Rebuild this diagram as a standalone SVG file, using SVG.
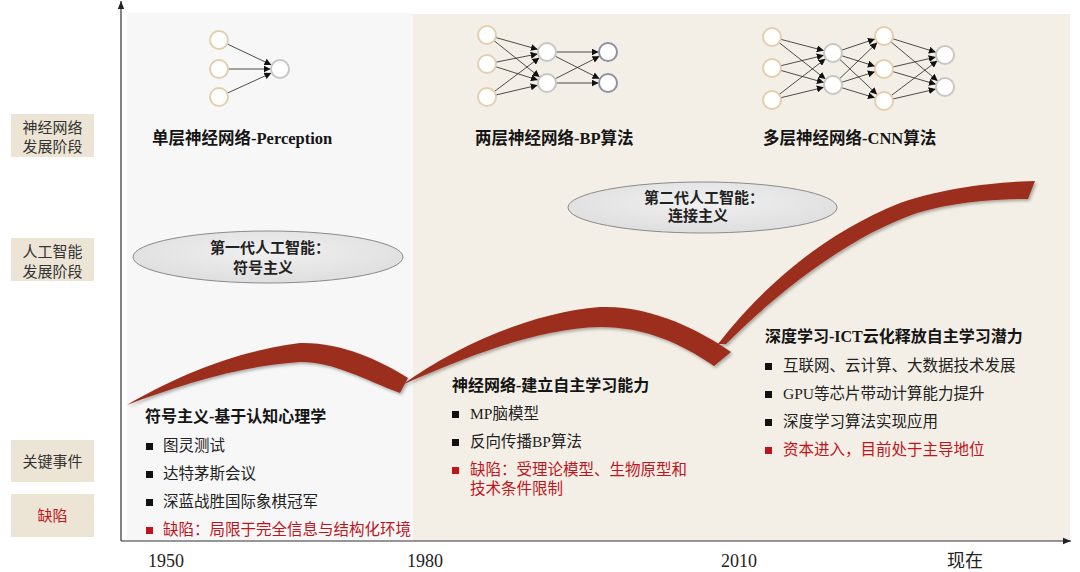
<svg xmlns="http://www.w3.org/2000/svg" width="1080" height="572" viewBox="0 0 1080 572">
<style>
text { font-family: 'Liberation Serif', 'Noto Sans CJK SC', serif; }
.lbl { font-size: 15px; fill: #333; text-anchor: middle; }
.lblbox { fill: #ece4d4; }
.h { font-size: 16px; font-weight: bold; fill: #151515; }
.nt { font-size: 16.5px; font-weight: bold; fill: #151515; }
.b { font-size: 15.5px; fill: #222; }
.red { fill: #c0141c; }
.sq { fill: #111; }
.sqr { fill: #c0141c; }
.yr { font-size: 18px; fill: #222; text-anchor: middle; }
.el { fill: url(#elg); stroke: #8a8a8a; stroke-width: 1; }
.et { font-size: 15px; font-weight: bold; fill: #222; text-anchor: middle; }
.nIn { fill: #fff; stroke: #e2cfae; stroke-width: 2; }
.nHid { fill: #fff; stroke: #c6c6c6; stroke-width: 2; }
.nOut { fill: #fff; stroke: #8e90aa; stroke-width: 2; }
.e { stroke: #222; stroke-width: 0.8; fill: none; marker-end: url(#ah); }
.sw { fill: #9b2f1c; filter: url(#sh); }
.ax { stroke: #333; stroke-width: 1.2; fill: none; }
</style>
<defs>
<marker id="ah" viewBox="0 0 10 10" refX="10" refY="5" markerWidth="7" markerHeight="7" markerUnits="userSpaceOnUse" orient="auto">
<path d="M0,0 L10,5 L0,10 Z" fill="#111"/>
</marker>
<marker id="axh" viewBox="0 0 10 10" refX="10" refY="5" markerWidth="8" markerHeight="8" markerUnits="userSpaceOnUse" orient="auto">
<path d="M0,1 L10,5 L0,9 Z" fill="#222"/>
</marker>
<radialGradient id="elg" cx="50%" cy="40%" r="60%">
<stop offset="0" stop-color="#f0f0f0"/>
<stop offset="1" stop-color="#dedede"/>
</radialGradient>
<filter id="sh" x="-5%" y="-20%" width="110%" height="140%">
<feDropShadow dx="1.5" dy="2" stdDeviation="1.5" flood-color="#000" flood-opacity="0.3"/>
</filter>
</defs>

<rect width="1080" height="572" fill="#ffffff"/>
<g id="bg">
<rect x="127" y="13" width="286" height="528" fill="#f7f7f7"/>
<rect x="413" y="14" width="657" height="527" fill="#f3efe6"/>
</g>

<g id="axes">
<line class="ax" x1="121" y1="541" x2="121" y2="1" marker-end="url(#axh)"/>
<line class="ax" x1="121" y1="541" x2="1071" y2="541" marker-end="url(#axh)"/>
</g>

<g id="row-labels">
<g id="lbl-nn">
<rect class="lblbox" x="11" y="114" width="83" height="43"/>
<text class="lbl" x="52.5" y="133">神经网络</text>
<text class="lbl" x="52.5" y="152">发展阶段</text>
</g>
<g id="lbl-ai">
<rect class="lblbox" x="11" y="238" width="83" height="43"/>
<text class="lbl" x="52.5" y="257">人工智能</text>
<text class="lbl" x="52.5" y="277">发展阶段</text>
</g>
<g id="lbl-events">
<rect class="lblbox" x="11" y="440" width="83" height="42"/>
<text class="lbl" x="52.5" y="467">关键事件</text>
</g>
<g id="lbl-defect">
<rect class="lblbox" x="11" y="494" width="83" height="43"/>
<text class="lbl red" x="52.5" y="521">缺陷</text>
</g>
</g>

<g id="swooshes">
<path class="sw" d="M718,344 C760,290 820,235 900,203 C950,186 1000,182 1035,181 L1028,199 C990,199 950,203 917,213 C850,236 780,290 726,344 Z"/>
<path class="sw" d="M404,384 C450,350 530,312 600,307 C650,305 700,330 731,352 L714,366 C680,343 645,327 600,327 C540,328 470,355 404,384 Z"/>
<path class="sw" d="M127,405 C170,380 230,352 300,343 C340,342 380,360 408,378 L400,393 C365,380 335,362 300,362 C240,366 180,385 127,405 Z"/>
</g>

<g id="connectors">
<line class="e" x1="227.1" y1="43.9" x2="271.4" y2="64.9"/>
<line class="e" x1="228" y1="69" x2="270.5" y2="69"/>
<line class="e" x1="227.2" y1="93.2" x2="271.4" y2="73"/>

<line class="e" x1="495.7" y1="37.5" x2="537.9" y2="49.4"/>
<line class="e" x1="494" y1="40.6" x2="539.6" y2="77.1"/>
<line class="e" x1="495.8" y1="62.2" x2="537.7" y2="53.9"/>
<line class="e" x1="495.6" y1="66.7" x2="537.9" y2="80.1"/>
<line class="e" x1="494.2" y1="91.6" x2="539.4" y2="57.7"/>
<line class="e" x1="495.8" y1="95" x2="537.7" y2="85.2"/>
<line class="e" x1="556" y1="52" x2="598.5" y2="52"/>
<line class="e" x1="555" y1="56.1" x2="599.5" y2="78.7"/>
<line class="e" x1="555" y1="78.9" x2="599.5" y2="56.3"/>
<line class="e" x1="556" y1="83" x2="598.5" y2="83"/>

<line class="e" x1="780.7" y1="39.3" x2="823.8" y2="50.6"/>
<line class="e" x1="779.1" y1="42.6" x2="825.5" y2="79.1"/>
<line class="e" x1="780.7" y1="65.8" x2="823.8" y2="55.3"/>
<line class="e" x1="780.7" y1="70.4" x2="823.9" y2="82.5"/>
<line class="e" x1="779.1" y1="94.5" x2="825.5" y2="58.8"/>
<line class="e" x1="780.7" y1="97.8" x2="823.8" y2="87.3"/>
<line class="e" x1="841.5" y1="50.2" x2="875" y2="39"/>
<line class="e" x1="841.6" y1="55.7" x2="874.9" y2="66.2"/>
<line class="e" x1="839.6" y1="59.2" x2="877.1" y2="94.5"/>
<line class="e" x1="839.5" y1="78.8" x2="877.2" y2="42.6"/>
<line class="e" x1="841.6" y1="82.3" x2="874.9" y2="71.8"/>
<line class="e" x1="841.6" y1="87.7" x2="874.9" y2="97.8"/>
<line class="e" x1="892.6" y1="38.7" x2="935.9" y2="52.2"/>
<line class="e" x1="890.9" y1="41.8" x2="937.7" y2="80.9"/>
<line class="e" x1="892.8" y1="67" x2="935.7" y2="57.1"/>
<line class="e" x1="892.6" y1="71.5" x2="935.9" y2="84.3"/>
<line class="e" x1="891.2" y1="95.6" x2="937.4" y2="60.7"/>
<line class="e" x1="892.8" y1="99" x2="935.7" y2="89.1"/>
</g>

<g id="net-single">
<circle class="nIn" cx="219" cy="40" r="9"/>
<circle class="nIn" cx="219" cy="69" r="9"/>
<circle class="nIn" cx="219" cy="97" r="9"/>
<circle class="nHid" cx="280" cy="69" r="9"/>
<text class="nt" x="152" y="144">单层神经网络-Perception</text>
</g>

<g id="net-two">
<circle class="nIn" cx="487" cy="35" r="9"/>
<circle class="nIn" cx="487" cy="64" r="9"/>
<circle class="nIn" cx="487" cy="97" r="9"/>
<circle class="nHid" cx="547" cy="52" r="9"/>
<circle class="nHid" cx="547" cy="83" r="9"/>
<circle class="nOut" cx="608" cy="52" r="9"/>
<circle class="nOut" cx="608" cy="83" r="9"/>
<text class="nt" x="475" y="144">两层神经网络-BP算法</text>
</g>

<g id="net-multi">
<circle class="nIn" cx="772" cy="37" r="9"/>
<circle class="nIn" cx="772" cy="68" r="9"/>
<circle class="nIn" cx="772" cy="100" r="9"/>
<circle class="nHid" cx="833" cy="53" r="9"/>
<circle class="nHid" cx="833" cy="85" r="9"/>
<circle class="nIn" cx="884" cy="36" r="9"/>
<circle class="nIn" cx="884" cy="69" r="9"/>
<circle class="nIn" cx="884" cy="101" r="9"/>
<circle class="nHid" cx="945" cy="55" r="9"/>
<circle class="nHid" cx="945" cy="87" r="9"/>
<text class="nt" x="763" y="144">多层神经网络-CNN算法</text>
</g>

<g id="ai-gen1">
<ellipse class="el" cx="268" cy="257" rx="135" ry="26"/>
<text class="et" x="270" y="253">第一代人工智能：</text>
<text class="et" x="263" y="273">符号主义</text>
</g>

<g id="ai-gen2">
<ellipse class="el" cx="702.5" cy="207.5" rx="134.5" ry="25.5"/>
<text class="et" x="704" y="203">第二代人工智能：</text>
<text class="et" x="698" y="221">连接主义</text>
</g>

<g id="era1">
<text class="h" x="145" y="422">符号主义-基于认知心理学</text>
<rect class="sq" x="146" y="443" width="7" height="7"/>
<text class="b" x="163" y="451">图灵测试</text>
<rect class="sq" x="146" y="471" width="7" height="7"/>
<text class="b" x="163" y="479">达特茅斯会议</text>
<rect class="sq" x="146" y="499" width="7" height="7"/>
<text class="b" x="163" y="507">深蓝战胜国际象棋冠军</text>
<rect class="sqr" x="146" y="527" width="7" height="7"/>
<text class="b red" x="163" y="535">缺陷：局限于完全信息与结构化环境</text>
</g>

<g id="era2">
<text class="h" x="452" y="391">神经网络-建立自主学习能力</text>
<rect class="sq" x="452" y="411" width="7" height="7"/>
<text class="b" x="470" y="419">MP脑模型</text>
<rect class="sq" x="452" y="439" width="7" height="7"/>
<text class="b" x="470" y="447">反向传播BP算法</text>
<rect class="sqr" x="452" y="467" width="7" height="7"/>
<text class="b red" x="470" y="475">缺陷：受理论模型、生物原型和</text>
<text class="b red" x="470" y="494">技术条件限制</text>
</g>

<g id="era3">
<text class="h" x="765" y="342">深度学习-ICT云化释放自主学习潜力</text>
<rect class="sq" x="765" y="363" width="7" height="7"/>
<text class="b" x="783" y="371">互联网、云计算、大数据技术发展</text>
<rect class="sq" x="765" y="391" width="7" height="7"/>
<text class="b" x="783" y="399">GPU等芯片带动计算能力提升</text>
<rect class="sq" x="765" y="419" width="7" height="7"/>
<text class="b" x="783" y="427">深度学习算法实现应用</text>
<rect class="sqr" x="765" y="447" width="7" height="7"/>
<text class="b red" x="783" y="455">资本进入，目前处于主导地位</text>
</g>

<g id="years">
<text class="yr" x="166" y="567">1950</text>
<text class="yr" x="425" y="567">1980</text>
<text class="yr" x="739" y="567">2010</text>
<text class="yr" x="965" y="567">现在</text>
</g>
</svg>
